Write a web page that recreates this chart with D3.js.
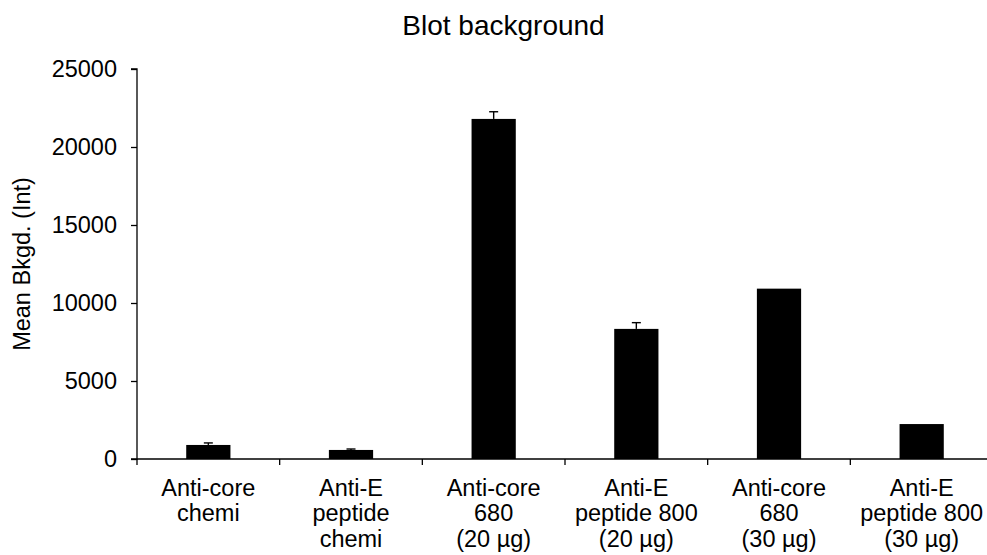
<!DOCTYPE html>
<html>
<head>
<meta charset="utf-8">
<script src="https://cdn.jsdelivr.net/npm/d3@7"></script>
<style>
  html, body { margin: 0; padding: 0; background: #fff; }
  svg { display: block; }
  text { font-family: "Liberation Sans", Arial, sans-serif; fill: #000; }
</style>
</head>
<body>
<svg id="chart" width="987" height="555"></svg>
<script>
// ---- data ----
const categories = [
  ["Anti-core", "chemi"],
  ["Anti-E", "peptide", "chemi"],
  ["Anti-core", "680", "(20 µg)"],
  ["Anti-E", "peptide 800", "(20 µg)"],
  ["Anti-core", "680", "(30 µg)"],
  ["Anti-E", "peptide 800", "(30 µg)"]
];
const meanValues = [900, 580, 21800, 8340, 10920, 2240];
const errorValues = [130, 60, 460, 400, 0, 0];
const yTicks = [0, 5000, 10000, 15000, 20000, 25000];
const title = "Blot background";
const yLabel = "Mean Bkgd. (Int)";

// ---- layout ----
const svg = d3.select("#chart");
const mLeft = 137, mTop = 69, mBottom = 459, mRight = 993;
const ids = categories.map((c, i) => i);

const x = d3.scaleBand().domain(ids).range([mLeft, mRight]).padding(0);
const y = d3.scaleLinear().domain([0, 25000]).range([mBottom, mTop]);
const barW = x.bandwidth() * 0.31;

// bars
svg.append("g").selectAll("rect")
  .data(ids)
  .join("rect")
  .attr("x", i => x(i) + x.bandwidth() / 2 - barW / 2)
  .attr("y", i => y(meanValues[i]))
  .attr("width", barW)
  .attr("height", i => y(0) - y(meanValues[i]))
  .attr("fill", "#000");

// error bars (upper only)
const eb = svg.append("g").attr("stroke", "#000").attr("stroke-width", 1.4);
ids.filter(i => errorValues[i] > 0).forEach(i => {
  const cx = x(i) + x.bandwidth() / 2;
  eb.append("line").attr("x1", cx).attr("x2", cx)
    .attr("y1", y(meanValues[i])).attr("y2", y(meanValues[i] + errorValues[i]));
  eb.append("line").attr("x1", cx - 4.5).attr("x2", cx + 4.5)
    .attr("y1", y(meanValues[i] + errorValues[i])).attr("y2", y(meanValues[i] + errorValues[i]));
});

// y axis
const yAxis = svg.append("g")
  .attr("transform", `translate(${mLeft},0)`)
  .call(d3.axisLeft(y).tickValues(yTicks).tickSize(6).tickPadding(14).tickFormat(d3.format("d")));
yAxis.selectAll("text").style("font-size", "23.5px").attr("fill", "#000");
yAxis.selectAll("line, path").attr("stroke", "#000").attr("stroke-width", 1.3);
yAxis.select(".domain").attr("d", `M-6,${y(25000)}H0V${y(0)}H-6`);

// x axis: baseline with boundary ticks
const xAxisG = svg.append("g");
xAxisG.append("line")
  .attr("x1", mLeft).attr("x2", mRight)
  .attr("y1", y(0)).attr("y2", y(0))
  .attr("stroke", "#000").attr("stroke-width", 1.3);
xAxisG.selectAll("line.tick")
  .data(ids)
  .join("line")
  .attr("class", "tick")
  .attr("x1", i => x(i)).attr("x2", i => x(i))
  .attr("y1", y(0)).attr("y2", y(0) + 6)
  .attr("stroke", "#000").attr("stroke-width", 1.3);

// x labels
const lbl = xAxisG.selectAll("text.cat")
  .data(ids)
  .join("text")
  .attr("class", "cat")
  .attr("text-anchor", "middle")
  .style("font-size", "23.5px")
  .attr("y", y(0) + 36.5);
lbl.each(function(i) {
  const t = d3.select(this);
  categories[i].forEach((line, k) => {
    t.append("tspan")
      .attr("x", x(i) + x.bandwidth() / 2)
      .attr("dy", k === 0 ? 0 : 25.5)
      .text(line);
  });
});

// title
svg.append("text")
  .attr("x", 503.5).attr("y", 35)
  .attr("text-anchor", "middle")
  .style("font-size", "28px")
  .text(title);

// y label
svg.append("text")
  .attr("transform", `translate(30,264) rotate(-90)`)
  .attr("text-anchor", "middle")
  .style("font-size", "23.5px")
  .text(yLabel);
</script>
</body>
</html>
